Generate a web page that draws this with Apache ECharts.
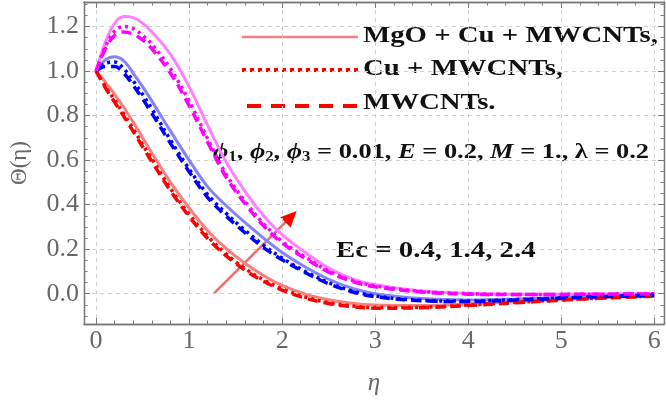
<!DOCTYPE html>
<html><head><meta charset="utf-8">
<script src="https://cdn.jsdelivr.net/npm/echarts@6/dist/echarts.min.js"></script>
<style>html,body{margin:0;padding:0;background:#fff}#c{width:666px;height:401px}</style>
</head><body><div id="c"></div>
<script>
const eta = [0,0.1,0.2,0.3,0.4,0.5,0.6,0.8,1.0,1.2,1.4,1.6,1.8,2.0,2.25,2.5,2.75,3.0,3.5,4.0,4.5,5.0,5.5,6.0];
// Ec = 0.4 (red)
const ec04Hybrid = [1,0.95,0.895,0.835,0.77,0.7,0.632,0.5,0.385,0.283,0.202,0.137,0.082,0.037,-0.002,-0.027,-0.043,-0.051,-0.053,-0.045,-0.035,-0.025,-0.016,-0.009];
const ec04Cu     = [1,0.93,0.87,0.805,0.74,0.67,0.605,0.472,0.357,0.258,0.178,0.113,0.062,0.022,-0.015,-0.04,-0.055,-0.062,-0.061,-0.051,-0.039,-0.028,-0.018,-0.01];
const ec04Mw     = [1,0.925,0.86,0.795,0.728,0.66,0.593,0.462,0.347,0.248,0.17,0.106,0.056,0.016,-0.02,-0.044,-0.058,-0.065,-0.063,-0.053,-0.041,-0.029,-0.019,-0.011];
// Ec = 1.4 (blue)
const ec14Hybrid = [1,1.05,1.064,1.045,0.99,0.93,0.865,0.73,0.6,0.48,0.395,0.32,0.25,0.185,0.12,0.065,0.025,0.0,-0.022,-0.028,-0.024,-0.017,-0.01,-0.005];
const ec14Cu     = [1,1.035,1.04,1.01,0.955,0.895,0.83,0.69,0.56,0.445,0.36,0.285,0.218,0.16,0.1,0.05,0.013,-0.01,-0.03,-0.033,-0.027,-0.019,-0.011,-0.006];
const ec14Mw     = [1,1.02,1.02,0.99,0.935,0.875,0.81,0.675,0.548,0.432,0.348,0.274,0.207,0.152,0.094,0.045,0.009,-0.013,-0.032,-0.035,-0.029,-0.02,-0.012,-0.007];
// Ec = 2.4 (magenta)
const ec24Hybrid = [1,1.13,1.215,1.245,1.24,1.215,1.175,1.075,0.93,0.755,0.59,0.46,0.35,0.265,0.185,0.115,0.068,0.04,0.012,0.002,-0.002,-0.002,-0.001,0];
const ec24Cu     = [1,1.11,1.18,1.2,1.19,1.16,1.12,1.01,0.865,0.695,0.535,0.415,0.315,0.235,0.165,0.102,0.06,0.035,0.01,0.0,-0.003,-0.003,-0.002,0];
const ec24Mw     = [1,1.1,1.16,1.175,1.165,1.14,1.1,0.99,0.845,0.68,0.522,0.405,0.305,0.228,0.158,0.097,0.056,0.031,0.008,-0.002,-0.004,-0.003,-0.002,-0.001];

const xTicks = [0,1,2,3,4,5,6];
const yTicks = [0,0.2,0.4,0.6,0.8,1.0,1.2];
const legendNames = ['MgO + Cu + MWCNTs,','Cu + MWCNTs,','MWCNTs.'];

const xMin=-0.13, xMax=6.105, yMin=-0.136, yMax=1.31;
const xMinor=[]; for(let v=-0.2; v<=6.2; v+=0.2){const r=Math.round(v*10)/10; if(r>xMin && r<xMax && Math.abs(r-Math.round(r))>1e-6) xMinor.push(r);}
const yMinor=[]; for(let v=-0.2; v<=1.35; v+=0.05){const r=Math.round(v*100)/100; if(r>yMin && r<yMax && Math.abs(r*5-Math.round(r*5))>1e-6) yMinor.push(r);}

const FR='#7a7a7a';
const serif='"Liberation Serif","Times New Roman",serif';
function xAx(pos, major, labels){
  return {type:'value', min:xMin, max:xMax, position:pos,
    axisLine:{show:true, onZero:false, lineStyle:{color:FR,width:1.3}},
    axisTick:{show:true, inside:true, length: major?6:3.5, customValues: major?xTicks:xMinor, lineStyle:{color:FR,width:1}},
    axisLabel:{show:labels, customValues:xTicks, formatter:v=>String(v), fontFamily:serif, fontSize:26, color:'#686868', margin:4},
    splitLine:{show: (major && pos==='bottom'), lineStyle:{color:'#cfcfcf', type:[4,4], width:1}},
    name: labels?'η':'', nameLocation:'middle', nameGap:47,
    nameTextStyle:{fontFamily:serif, fontStyle:'italic', fontSize:25, color:'#686868'}
  };
}
function yAx(pos, major, labels){
  return {type:'value', min:yMin, max:yMax, position:pos,
    axisLine:{show:true, onZero:false, lineStyle:{color:FR,width:1.3}},
    axisTick:{show:true, inside:true, length: major?6:3.5, customValues: major?yTicks:yMinor, lineStyle:{color:FR,width:1}},
    axisLabel:{show:labels, customValues:yTicks, formatter:v=>v.toFixed(1), fontFamily:serif, fontSize:26, color:'#686868', margin:5},
    splitLine:{show: (major && pos==='left'), lineStyle:{color:'#cfcfcf', type:[4,4], width:1}},
    name: labels?'Θ(η)':'', nameLocation:'middle', nameGap:53, nameRotate:90,
    nameTextStyle:{fontFamily:serif, fontSize:23, color:'#686868'}
  };
}

function mk(arr, color, kind){
  const ls = kind==='solid' ? {color, width:3, type:'solid'}
           : kind==='dot' ? {color, width:3.5, type:[3,4]}
           : {color, width:3.5, type:[10,6]};
  return {type:'line', data: eta.map((x,i)=>[x,arr[i]]), showSymbol:false, symbol:'none',
    smooth:0.35, lineStyle:ls, z: kind==='solid'?2:3, silent:true};
}
const RS='#f58080', BS='#8484f6', MS='#ff80ff';
const series = [
  mk(ec04Hybrid,RS,'solid'), mk(ec14Hybrid,BS,'solid'), mk(ec24Hybrid,MS,'solid'),
  mk(ec04Cu,'#ff0000','dot'), mk(ec14Cu,'#0000ff','dot'), mk(ec24Cu,'#ff00ff','dot'),
  mk(ec04Mw,'#ff0000','dash'), mk(ec14Mw,'#0000ff','dash'), mk(ec24Mw,'#ff00ff','dash')
];

const chart = echarts.init(document.getElementById('c'), null, {renderer:'canvas'});
const txt = {fontFamily:serif, fontWeight:'bold', fontSize:24, fill:'#111', textVerticalAlign:'middle', verticalAlign:'middle'};
function T(text, x, y, sx){ return {type:'text', x, y, scaleX:sx, style:Object.assign({text},txt)}; }
chart.setOption({
  animation:false,
  backgroundColor:'#fff',
  grid:{left:73, right:2, top:2, bottom:65},
  xAxis:[xAx('bottom',true,true), xAx('bottom',false,false), xAx('top',true,false), xAx('top',false,false)],
  yAxis:[yAx('left',true,true), yAx('left',false,false), yAx('right',true,false), yAx('right',false,false)],
  series,
  graphic:[
    {type:'line', shape:{x1:242,y1:37,x2:358,y2:37}, style:{stroke:RS, lineWidth:2.5}},
    {type:'line', shape:{x1:242,y1:70,x2:358,y2:70}, style:{stroke:'#ff0000', lineWidth:4, lineDash:[4,4]}},
    {type:'line', shape:{x1:247,y1:106,x2:358,y2:106}, style:{stroke:'#ff0000', lineWidth:4, lineDash:[14,10]}},
    T(legendNames[0], 363, 36, 1.2),
    T(legendNames[1], 363, 69, 1.2),
    T(legendNames[2], 363, 103, 1.2),
    {type:'text', x:213, y:152, scaleX:1.2, style:{
      text:'{i|ϕ}{s|1}, {i|ϕ}{s|2}, {i|ϕ}{s|3} = 0.01, {i|E} = 0.2, {i|M} = 1., λ = 0.2',
      fontFamily:serif, fontWeight:'bold', fontSize:22, fill:'#111', verticalAlign:'middle',
      rich:{
        i:{fontFamily:serif, fontWeight:'bold', fontStyle:'italic', fontSize:22, fill:'#111', lineHeight:25},
        s:{fontFamily:serif, fontWeight:'bold', fontSize:14, fill:'#111', lineHeight:14, verticalAlign:'bottom'}
      }}},
    T('Ec = 0.4, 1.4, 2.4', 336, 251, 1.2),
    {type:'line', shape:{x1:214,y1:293.3,x2:288,y2:219.6}, style:{stroke:'#f26b6b', lineWidth:2.5}},
    {type:'polygon', shape:{points:[[296.7,211],[290.6,227.6],[280.2,217.2]]}, style:{fill:'#ff0000'}}
  ]
});
</script></body></html>
